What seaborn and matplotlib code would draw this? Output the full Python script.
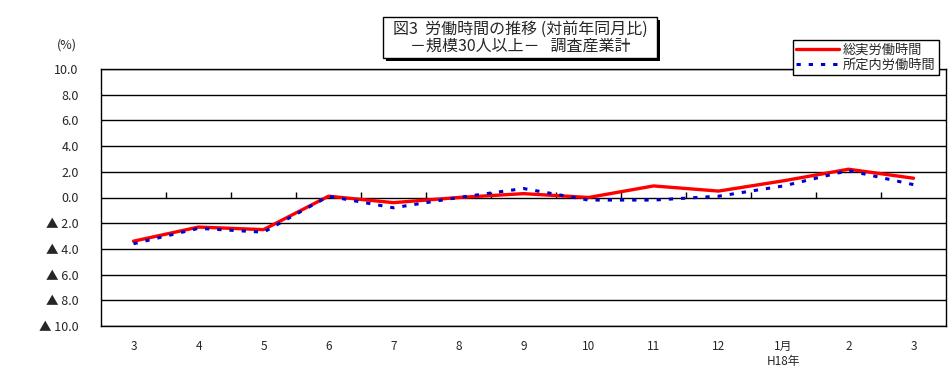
import numpy as np
import pandas as pd
import matplotlib
matplotlib.use("Agg")
import matplotlib.pyplot as plt
import seaborn as sns
from matplotlib.patches import Rectangle

# データ
months = ["3", "4", "5", "6", "7", "8", "9", "10", "11", "12", "1月\nH18年", "2", "3"]
total_hours = [-3.4, -2.3, -2.5, 0.1, -0.4, 0.0, 0.3, 0.0, 0.9, 0.5, 1.3, 2.2, 1.5]
scheduled_hours = [-3.6, -2.4, -2.7, 0.1, -0.8, 0.0, 0.7, -0.2, -0.2, 0.1, 0.9, 2.1, 1.0]
y_ticks = [10, 8, 6, 4, 2, 0, -2, -4, -6, -8, -10]

sns.set_style("white")
plt.rcParams['font.family'] = ['Noto Sans CJK JP', 'DejaVu Sans']

fig = plt.figure(figsize=(9.53, 3.75), dpi=100)
ax = fig.add_axes([101 / 953, 1 - 326 / 375, 845 / 953, 257 / 375])

x = np.arange(len(months))
df = pd.DataFrame({"x": x, "総実労働時間": total_hours, "所定内労働時間": scheduled_hours})

sns.lineplot(data=df, x="x", y="総実労働時間", ax=ax, color="#FF0000", linewidth=2.4,
             label="総実労働時間", zorder=3)
sns.lineplot(data=df, x="x", y="所定内労働時間", ax=ax, color="#0000CC", linewidth=2.2,
             linestyle=(0, (1.4, 2.6)), label="所定内労働時間", zorder=4)

ax.set_xlim(-0.5, len(months) - 0.5)
ax.set_ylim(-10, 10)
ax.set_yticks(y_ticks)
ax.set_yticklabels([f"{v:.1f}" if v >= 0 else f"▲ {abs(v):.1f}" for v in y_ticks], fontsize=9)
ax.tick_params(axis='y', direction='out', length=5, width=1, color='black', pad=11)
ax.grid(axis='y', color='black', linewidth=1)
ax.set_xticks(x)
ax.set_xticklabels(months, fontsize=8.5, va='top')
ax.tick_params(axis='x', length=0, pad=10)
ax.set_xlabel("")
ax.set_ylabel("")
for s in ax.spines.values():
    s.set_color('black')
    s.set_linewidth(1)

# 0.0 の軸上の目盛り
ax.vlines(x[:-1] + 0.5, 0, 0.4, color='black', linewidth=1, zorder=2)

ax.legend_.remove()
handles, labels = ax.get_legend_handles_labels()
leg = fig.legend(handles, labels, loc='upper left', bbox_to_anchor=(793 / 953, 1 - 40 / 375),
                 frameon=True, fancybox=False, edgecolor='black', framealpha=1,
                 fontsize=9.5, handlelength=3.2, borderpad=0.25, labelspacing=0.15,
                 handletextpad=0.3, borderaxespad=0)
leg.get_frame().set_linewidth(1)

fig.text(67 / 953, 1 - 45 / 375, "(%)", fontsize=9, ha='center', va='center')

# タイトル（影付きの枠）
fig.patches.append(Rectangle((386 / 953, 1 - 61 / 375), 274 / 953, 41 / 375,
                             transform=fig.transFigure, facecolor='black', edgecolor='none'))
fig.patches.append(Rectangle((383 / 953, 1 - 58 / 375), 274 / 953, 41 / 375,
                             transform=fig.transFigure, facecolor='white', edgecolor='black',
                             linewidth=1))
fig.text(520 / 953, 1 - 37.5 / 375, "図3  労働時間の推移 (対前年同月比)\n－規模30人以上－   調査産業計",
         fontsize=11.5, ha='center', va='center', linespacing=1.0)

fig.savefig("out.png", dpi=100, facecolor='white')
